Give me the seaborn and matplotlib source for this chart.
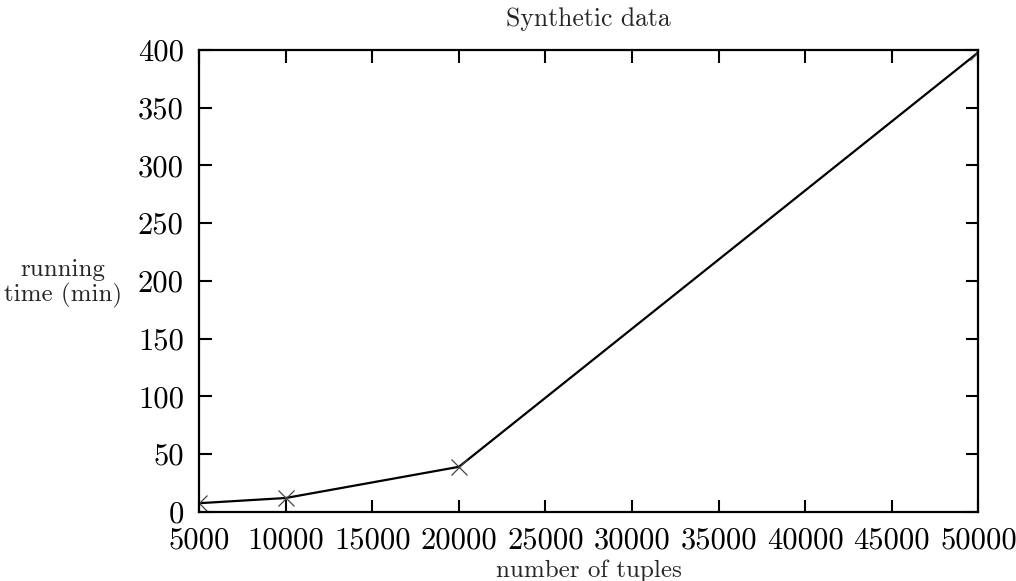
import matplotlib as mpl
import matplotlib.pyplot as plt
import numpy as np
import pandas as pd
import seaborn as sns

sns.set_style('ticks')
plt.rcParams['font.family'] = ['cmr10', 'DejaVu Serif']
plt.rcParams['axes.formatter.use_mathtext'] = True
plt.rcParams['mathtext.fontset'] = 'cm'

tuples = [5000, 10000, 20000, 50000]
minutes = [7.5, 12, 39, 398]

x_ticks = list(range(5000, 50001, 5000))
y_ticks = list(range(0, 401, 50))

df = pd.DataFrame({'tuples': tuples, 'minutes': minutes})

fig = plt.figure(figsize=(10.16, 5.81), dpi=100)
ax = fig.add_axes([0.196, 0.119, 0.767, 0.795])

sns.lineplot(data=df, x='tuples', y='minutes', ax=ax, color='black',
             linewidth=1.6, marker='x', markersize=11, markeredgewidth=0.9,
             markeredgecolor='#444444')

ax.set_xlim(5000, 50000)
ax.set_ylim(0, 400)
ax.set_xticks(x_ticks, labels=[str(t) for t in x_ticks])
ax.set_yticks(y_ticks, labels=[str(t) for t in y_ticks])
ax.tick_params(direction='in', length=9, width=1.5, top=True, right=True,
               labelsize=22, colors='black')
ax.tick_params(axis='x', pad=11)
ax.tick_params(axis='y', pad=11)
for s in ax.spines.values():
    s.set_linewidth(1.6)
    s.set_color('black')

ax.set_title('Synthetic data', fontsize=18.5, pad=17)
ax.set_xlabel('number of tuples', fontsize=18)
ax.xaxis.set_label_coords(0.5, -0.128)
ax.xaxis.label.set_va('center')
ax.set_ylabel('running\ntime (min)', fontsize=18, rotation=0,
              ha='center', va='center', linespacing=1.1)
ax.yaxis.set_label_coords(-0.175, 0.495)

fig.savefig('out.png', dpi=100)
